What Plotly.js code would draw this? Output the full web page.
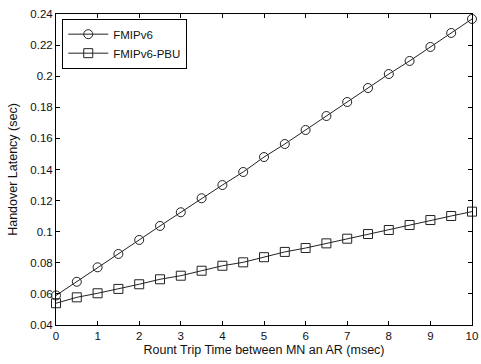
<!DOCTYPE html>
<html><head><meta charset="utf-8">
<script src="https://cdn.plot.ly/plotly-3.0.1.min.js"></script>
<style>body{margin:0;padding:0;background:#fff}#chart{width:481px;height:364px}</style>
</head><body><div id="chart"></div>
<script>
const rtt = [0,0.5,1,1.5,2,2.5,3,3.5,4,4.5,5,5.5,6,6.5,7,7.5,8,8.5,9,9.5,10];
const fmipv6 = [0.059,0.0678,0.0771,0.0857,0.0947,0.1037,0.1125,0.1215,0.130,0.1384,0.148,0.1564,0.1654,0.1744,0.1834,0.1924,0.2014,0.2098,0.2188,0.2278,0.2368];
const fmipv6pbu = [0.054,0.0578,0.0604,0.0632,0.0662,0.0694,0.0717,0.0749,0.0781,0.0803,0.0836,0.0870,0.0895,0.0925,0.0955,0.0985,0.1011,0.1043,0.1075,0.1101,0.1129];
const xTicks = [0,1,2,3,4,5,6,7,8,9,10];
const yTicks = [0.04,0.06,0.08,0.1,0.12,0.14,0.16,0.18,0.2,0.22,0.24];
const yTickText = ['0.04','0.06','0.08','0.1','0.12','0.14','0.16','0.18','0.2','0.22','0.24'];

const lineStyle = {color:'#222', width:1};
const traces = [
  {x:rtt, y:fmipv6, name:'FMIPv6', mode:'lines+markers', line:lineStyle, cliponaxis:false,
   marker:{symbol:'circle-open', size:9, color:'#222', line:{width:1}}},
  {x:rtt, y:fmipv6pbu, name:'FMIPv6-PBU', mode:'lines+markers', line:lineStyle, cliponaxis:false,
   marker:{symbol:'square-open', size:9, color:'#222', line:{width:1}}}
];
const axisCommon = {showline:true, linecolor:'#000', linewidth:1, mirror:'ticks', ticks:'inside',
  ticklen:4, tickcolor:'#000', showgrid:false, zeroline:false, ticklabeloverflow:'allow',
  tickfont:{family:'Liberation Sans, Arial, sans-serif', size:11.5, color:'#111'}};
const layout = {
  width:481, height:364,
  margin:{l:56, r:9, t:14, b:39},
  paper_bgcolor:'#fff', plot_bgcolor:'#fff',
  font:{family:'Liberation Sans, Arial, sans-serif', size:11.5, color:'#111'},
  xaxis:Object.assign({}, axisCommon, {range:[0,10], tickvals:xTicks,
    title:{text:'Rount Trip Time between MN an AR (msec)', standoff:4, font:{size:12.5}}}),
  yaxis:Object.assign({}, axisCommon, {range:[0.04,0.24], tickvals:yTicks, ticktext:yTickText,
    title:{text:'Handover Latency (sec)', standoff:9, font:{size:12.5}}}),
  showlegend:true,
  legend:{x:0.015, y:0.985, xanchor:'left', yanchor:'top', bgcolor:'#fff',
    bordercolor:'#000', borderwidth:1, font:{size:11.5}, itemwidth:40, tracegroupgap:0}
};
Plotly.newPlot('chart', traces, layout, {displayModeBar:false, staticPlot:true});
</script></body></html>
